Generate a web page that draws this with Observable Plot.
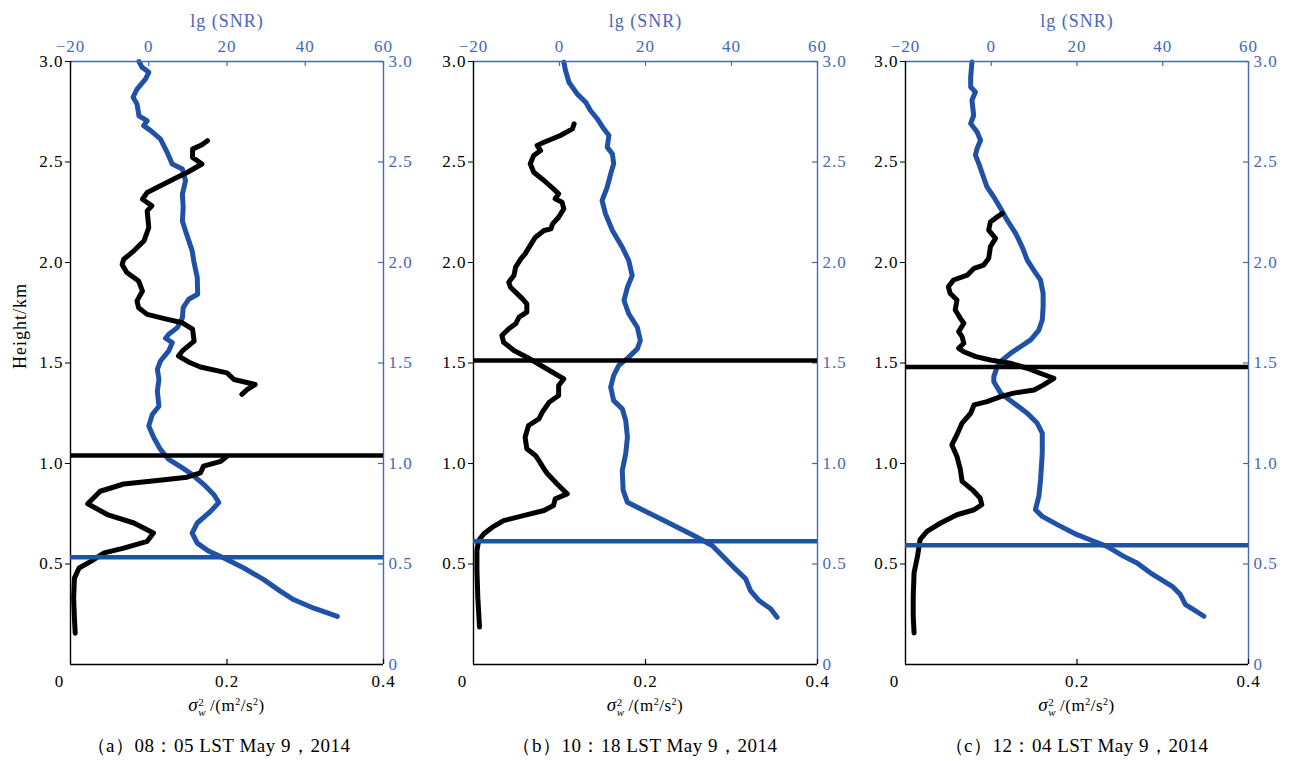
<!DOCTYPE html>
<html>
<head>
<meta charset="utf-8">
<script src="https://cdn.jsdelivr.net/npm/d3@7"></script>
<script src="https://cdn.jsdelivr.net/npm/@observablehq/plot@0.6"></script>
<style>
  body { margin: 0; background: #fff; }
  #chart { position: relative; width: 1294px; height: 761px; background: #fff; overflow: hidden;
           font-family: "Liberation Serif", "Times New Roman", serif; color: #000; }
  #chart svg.layer { position: absolute; top: 0; max-width: none; }
  .xtitle { position: absolute; top: 693px; height: 24px; line-height: 24px; text-align: center; font-size: 17px; letter-spacing: 0.5px; }
  .xtitle .sig { font-style: italic; font-size: 19px; }
  .xtitle .stack { display: inline-block; vertical-align: -0.45em; line-height: 10px; font-size: 11px; text-align: left; margin-right: 4px; }
  .xtitle .stack span { display: block; }
  .xtitle sup { font-size: 10px; vertical-align: 6px; line-height: 0; }
  .caption { position: absolute; top: 733px; height: 26px; line-height: 26px; text-align: center; font-size: 19px; letter-spacing: 0.5px; }
</style>
</head>
<body>
<div id="chart"></div>
<script>
// ---------- tick labels ----------
const heightTicks = [0.5, 1.0, 1.5, 2.0, 2.5, 3.0];
const rightTicks = [0, 0.5, 1.0, 1.5, 2.0, 2.5, 3.0];
const sigmaTicks = [0.2, 0.4];
const sigmaOrigin = [0];
const snrTicks = [-20, 0, 20, 40, 60];
const captions = ["（a）08：05 LST May 9，2014", "（b）10：18 LST May 9，2014", "（c）12：04 LST May 9，2014"];

// ---------- panel (a) 08:05 ----------
const aSigmaHeight = [2.606,2.586,2.564,2.523,2.490,2.448,2.415,2.382,2.348,2.315,2.282,2.257,2.174,2.108,2.058,2.016,1.990,1.950,1.908,1.858,1.809,1.775,1.742,1.717,1.700,1.668,1.609,1.560,1.535,1.501,1.480,1.451,1.418,1.393,1.369,1.344,
  1.20,
  1.036,1.011,0.987,0.953,0.932,0.915,0.898,0.862,0.800,0.746,0.704,0.654,0.613,0.579,0.555,0.513,0.480,0.430,0.330,0.231,0.156];
const aSigmaValue = [0.175,0.168,0.156,0.156,0.168,0.149,0.132,0.115,0.098,0.092,0.104,0.098,0.100,0.094,0.081,0.068,0.066,0.072,0.087,0.092,0.085,0.087,0.098,0.124,0.143,0.156,0.158,0.143,0.138,0.153,0.166,0.200,0.209,0.236,0.226,0.219,
  NaN,
  0.200,0.192,0.170,0.166,0.149,0.111,0.068,0.038,0.022,0.047,0.081,0.106,0.098,0.068,0.043,0.026,0.011,0.005,0.004,0.005,0.006];
const aSnrHeight = [3.000,2.971,2.946,2.913,2.863,2.822,2.789,2.730,2.705,2.681,2.656,2.614,2.548,2.490,2.465,2.407,2.340,2.273,2.207,2.157,2.058,2.008,1.925,1.842,1.817,1.775,1.725,1.676,1.643,1.623,1.601,1.560,1.510,1.468,1.418,1.360,1.285,1.244,1.186,1.128,1.070,1.020,0.978,0.945,0.895,0.846,0.806,0.762,0.704,0.654,0.604,0.563,0.530,0.480,0.422,0.364,0.322,0.280,0.239];
const aSnrValue = [-2.5,-1.7,0.0,-0.8,-3.0,-4.0,-3.0,-2.5,-0.4,-1.3,0.5,3.0,4.7,6.0,8.6,9.4,8.6,8.8,8.6,9.4,11.1,11.5,12.4,12.5,10.2,8.8,8.6,7.3,5.1,4.3,6.0,5.1,3.0,2.2,2.6,2.2,2.6,0.9,0.0,1.3,3.0,5.1,8.6,11.1,14.1,16.6,17.9,15.8,12.4,11.1,12.4,15.4,19.2,24.3,29.4,33.7,37.1,42.2,48.2];
const aSigmaTop = [1.04];
const aSnrTop = [0.533];

// ---------- panel (b) 10:18 ----------
const bSigmaHeight = [2.690,2.665,2.632,2.598,2.582,2.557,2.532,2.491,2.449,2.408,2.366,2.342,2.317,2.300,2.267,2.225,2.192,2.167,2.159,2.126,2.085,2.043,2.018,1.977,1.935,1.902,1.877,1.844,1.819,1.794,1.753,1.728,1.695,1.670,1.637,1.603,1.562,1.529,1.479,1.421,1.388,1.338,1.305,1.255,1.222,1.189,1.131,1.073,1.040,1.015,0.973,0.949,0.899,0.849,0.824,0.791,0.766,0.741,0.716,0.683,0.650,0.617,0.567,0.468,0.335,0.186];
const bSigmaValue = [0.117,0.115,0.101,0.082,0.074,0.078,0.070,0.066,0.070,0.082,0.093,0.099,0.095,0.103,0.105,0.099,0.092,0.090,0.082,0.072,0.066,0.060,0.055,0.049,0.047,0.041,0.043,0.051,0.057,0.062,0.062,0.053,0.049,0.041,0.033,0.035,0.047,0.062,0.082,0.105,0.099,0.099,0.088,0.080,0.076,0.064,0.060,0.062,0.072,0.076,0.082,0.086,0.097,0.109,0.095,0.093,0.082,0.058,0.035,0.022,0.012,0.006,0.004,0.004,0.005,0.007];
const bSnrHeight = [2.997,2.955,2.897,2.839,2.797,2.756,2.714,2.665,2.632,2.574,2.540,2.491,2.441,2.375,2.308,2.242,2.159,2.076,2.010,1.935,1.877,1.811,1.745,1.678,1.612,1.570,1.529,1.488,1.438,1.380,1.313,1.272,1.214,1.131,1.048,0.965,0.866,0.807,0.766,0.716,0.667,0.633,0.592,0.534,0.484,0.426,0.368,0.318,0.277,0.235];
const bSnrValue = [1.0,1.4,2.2,4.1,6.1,7.2,8.8,10.3,11.5,11.1,12.3,12.6,11.9,11.1,9.9,10.7,12.3,14.6,16.1,16.9,15.8,15.0,16.1,18.1,18.8,18.1,16.1,13.8,12.6,11.9,12.6,14.6,15.4,15.8,15.4,14.6,14.8,15.8,19.6,24.3,28.9,32.0,35.5,38.2,40.5,43.3,44.4,46.4,49.1,50.6];
const bSigmaTop = [1.512];
const bSnrTop = [0.613];

// ---------- panel (c) 12:04 ----------
const cSigmaHeight = [2.244,2.227,2.202,2.161,2.120,2.078,2.020,1.987,1.971,1.937,1.913,1.879,1.847,1.813,1.764,1.722,1.698,1.656,1.631,1.598,1.573,1.556,1.532,1.515,1.499,1.474,1.449,1.424,1.391,1.366,1.350,1.333,1.308,1.292,1.250,1.201,1.143,1.093,1.035,0.969,0.911,0.869,0.828,0.795,0.770,0.745,0.704,0.662,0.621,0.538,0.456,0.339,0.240,0.157];
const cSigmaValue = [0.113,0.107,0.099,0.097,0.105,0.099,0.097,0.091,0.080,0.072,0.056,0.050,0.052,0.060,0.058,0.064,0.068,0.062,0.066,0.068,0.062,0.068,0.082,0.099,0.122,0.142,0.157,0.173,0.161,0.150,0.126,0.111,0.095,0.080,0.076,0.066,0.060,0.054,0.060,0.064,0.066,0.078,0.087,0.089,0.080,0.060,0.041,0.025,0.017,0.014,0.010,0.009,0.009,0.010];
const cSnrHeight = [2.997,2.922,2.873,2.848,2.807,2.732,2.691,2.649,2.608,2.567,2.534,2.492,2.443,2.376,2.326,2.269,2.211,2.145,2.078,2.012,1.962,1.912,1.846,1.780,1.714,1.664,1.615,1.581,1.548,1.515,1.482,1.432,1.407,1.350,1.300,1.250,1.201,1.151,1.052,0.919,0.836,0.770,0.737,0.696,0.646,0.613,0.588,0.538,0.505,0.456,0.389,0.348,0.298,0.273,0.240];
const cSnrValue = [-4.5,-4.8,-4.8,-3.7,-4.5,-4.1,-4.8,-3.3,-2.5,-3.3,-3.7,-2.9,-2.1,-1.0,0.6,2.2,3.7,5.7,7.2,8.4,9.9,11.5,12.1,12.1,11.9,11.1,9.2,6.8,4.5,2.6,1.4,0.6,0.6,2.2,5.3,8.4,10.7,11.9,11.9,11.5,11.1,10.3,11.9,15.4,20.0,23.9,27.0,30.9,34.0,37.1,42.2,44.1,45.3,47.2,49.6];
const cSigmaTop = [1.48];
const cSnrTop = [0.593];

// ---------- layout & style ----------
const FONT = "'Liberation Serif', 'Times New Roman', serif";
const BLUE_LINE = "#1f51a6";
const BLUE_AXIS = "#4668b8";
const FRAME_TOP = 61, FRAME_BOTTOM = 664;
const ML = 70, MR = 50, MB = 40;

const panels = [
  {left: 70,  right: 383,  sigH: aSigmaHeight, sigV: aSigmaValue, snrH: aSnrHeight, snrV: aSnrValue, blackRule: aSigmaTop, blueRule: aSnrTop, yTitle: true, capShift: -8},
  {left: 473, right: 817,  sigH: bSigmaHeight, sigV: bSigmaValue, snrH: bSnrHeight, snrV: bSnrValue, blackRule: bSigmaTop, blueRule: bSnrTop, yTitle: false, capShift: 0},
  {left: 905, right: 1248, sigH: cSigmaHeight, sigV: cSigmaValue, snrH: cSnrHeight, snrV: cSnrValue, blackRule: cSigmaTop, blueRule: cSnrTop, yTitle: false, capShift: 0}
];

const chart = document.getElementById("chart");
const minusFmt = d => d < 0 ? "\u2212" + Math.abs(d) : String(d);

panels.forEach((p, i) => {
  const plotW = p.right - p.left, plotH = FRAME_BOTTOM - FRAME_TOP;
  const common = {
    width: plotW + ML + MR, height: plotH + FRAME_TOP + MB,
    marginLeft: ML, marginRight: MR, marginTop: FRAME_TOP, marginBottom: MB,
    style: {background: "transparent", fontFamily: FONT, fontSize: "17px", letterSpacing: "1px", overflow: "visible"}
  };

  const snrLayer = Plot.plot({
    ...common,
    x: {domain: [-20, 60]},
    y: {domain: [0, 3]},
    marks: [
      Plot.line(p.snrH, {x: p.snrV, y: p.snrH, stroke: BLUE_LINE, strokeWidth: 5, strokeLinejoin: "round", curve: "linear"}),
      Plot.ruleY([3], {stroke: BLUE_AXIS, strokeWidth: 1.4}),
      Plot.ruleX([60], {stroke: BLUE_AXIS, strokeWidth: 1.4}),
      Plot.ruleX(snrTicks, {x: d => d, stroke: BLUE_AXIS, strokeWidth: 1.2, insetBottom: plotH - 5}),
      Plot.ruleY(rightTicks, {y: d => d, stroke: BLUE_AXIS, strokeWidth: 1.2, insetLeft: plotW - 5}),
      Plot.axisX({anchor: "top", ticks: snrTicks, tickSize: 0, tickPadding: 10, tickFormat: minusFmt, color: BLUE_AXIS, label: null}),
      Plot.axisY({anchor: "right", ticks: rightTicks, tickSize: 0, tickPadding: 5, tickFormat: d => d === 0 ? "0" : d.toFixed(1), color: BLUE_AXIS, label: null}),
      Plot.text(["lg (SNR)"], {frameAnchor: "top", dy: -35, lineAnchor: "bottom", fill: BLUE_AXIS, fontSize: 18})
    ]
  });

  const sigmaLayer = Plot.plot({
    ...common,
    x: {domain: [0, 0.4]},
    y: {domain: [0, 3]},
    marks: [
      Plot.line(p.sigH, {x: p.sigV, y: p.sigH, stroke: "#000", strokeWidth: 5, strokeLinejoin: "round"}),
      Plot.ruleY(p.blackRule, {stroke: "#000", strokeWidth: 4.5}),
      Plot.ruleX([0], {stroke: "#000", strokeWidth: 1.4}),
      Plot.ruleY([0], {stroke: "#000", strokeWidth: 1.4}),
      Plot.ruleX(sigmaTicks, {x: d => d, stroke: "#000", strokeWidth: 1.2, insetTop: plotH - 5}),
      Plot.axisY({anchor: "left", ticks: heightTicks, tickSize: 5, tickPadding: 2, tickFormat: d => d.toFixed(1), label: null}),
      Plot.axisX({anchor: "bottom", ticks: sigmaTicks, tickSize: 0, tickPadding: 10, tickFormat: d => String(d), label: null}),
      Plot.axisX({anchor: "bottom", ticks: sigmaOrigin, tickSize: 0, tickPadding: 10, dx: -11, tickFormat: d => String(d), label: null}),
      p.yTitle ? Plot.text(["Height/km"], {frameAnchor: "left", dx: -50, dy: 6, rotate: -90, fontSize: 18}) : null
    ]
  });

  const ruleLayer = Plot.plot({
    ...common,
    x: {domain: [-20, 60], axis: null},
    y: {domain: [0, 3], axis: null},
    marks: [Plot.ruleY(p.blueRule, {stroke: BLUE_LINE, strokeWidth: 4.5})]
  });

  [snrLayer, sigmaLayer, ruleLayer].forEach(svg => {
    svg.classList.add("layer");
    svg.style.left = (p.left - ML) + "px";
    chart.appendChild(svg);
  });

  const xt = document.createElement("div");
  xt.className = "xtitle";
  xt.style.left = p.left + "px";
  xt.style.width = plotW + "px";
  xt.innerHTML = '<span class="sig">σ</span><span class="stack"><span>2</span><span style="font-style:italic">w</span></span>/(m<sup>2</sup>/s<sup>2</sup>)';
  chart.appendChild(xt);

  const cap = document.createElement("div");
  cap.className = "caption";
  cap.style.left = (p.left - 60 + p.capShift) + "px";
  cap.style.width = (plotW + 120) + "px";
  cap.textContent = captions[i];
  chart.appendChild(cap);
});
</script>
</body>
</html>
